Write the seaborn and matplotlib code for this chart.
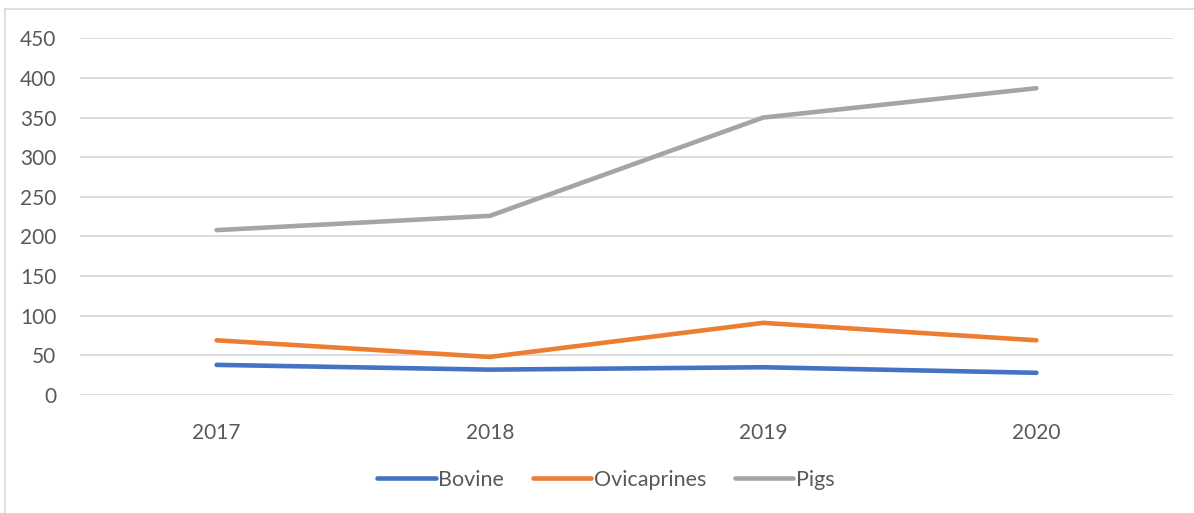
import matplotlib
matplotlib.use("Agg")
import matplotlib.pyplot as plt
from matplotlib.lines import Line2D
import seaborn as sns
import pandas as pd

years = ["2017", "2018", "2019", "2020"]
bovine = [38, 32, 35, 28]
ovicaprines = [69, 48, 91, 69]
pigs = [208, 226, 350, 387]
series_names = ["Bovine", "Ovicaprines", "Pigs"]
colors = ["#4472C4", "#ED7D31", "#A5A5A5"]

df = pd.DataFrame({
    "Year": years * 3,
    "Value": bovine + ovicaprines + pigs,
    "Series": [s for s in series_names for _ in years],
})

sns.set_theme(style="white")
plt.rcParams["font.family"] = ["Lato", "DejaVu Sans"]
text_color = "#595959"

fig = plt.figure(figsize=(11.94, 5.13), dpi=100)
ax = fig.add_axes([80 / 1194, (513 - 395) / 513, (1173 - 80) / 1194, (395 - 38.3) / 513])

sns.lineplot(data=df, x="Year", y="Value", hue="Series", palette=colors,
             hue_order=series_names, linewidth=3.3, ax=ax, sort=False,
             legend=False)
for ln in ax.lines:
    ln.set_solid_capstyle("round")
    ln.set_solid_joinstyle("round")

ax.set_xlim(-0.5, 3.5)
ax.set_ylim(0, 450)
ax.set_yticks(range(0, 451, 50))
ax.yaxis.grid(True, color="#D9D9D9", linewidth=1.3)
ax.set_axisbelow(True)
for s in ax.spines.values():
    s.set_visible(False)
ax.set_xlabel("")
ax.set_ylabel("")
ax.tick_params(axis="y", length=0, pad=17, labelsize=15, labelcolor=text_color)
ax.tick_params(axis="x", length=0, pad=20, labelsize=15, labelcolor=text_color)

handles = [Line2D([0], [0], color=c, lw=3.3, solid_capstyle="round") for c in colors]
fig.legend(handles, series_names, loc="center", bbox_to_anchor=(606 / 1194, 1 - 480 / 513),
           ncol=3, frameon=False, fontsize=15.5, labelcolor=text_color,
           handlelength=2.7, handletextpad=0.12, columnspacing=1.35)

# chart frame edges
fig.add_artist(Line2D([5 / 1194, 5 / 1194], [0, 1 - 9 / 513], color="#D9D9D9", lw=1.2))
fig.add_artist(Line2D([5 / 1194, 1], [1 - 9 / 513, 1 - 9 / 513], color="#D9D9D9", lw=1.2))

fig.savefig("out.png", dpi=100, facecolor="white")
